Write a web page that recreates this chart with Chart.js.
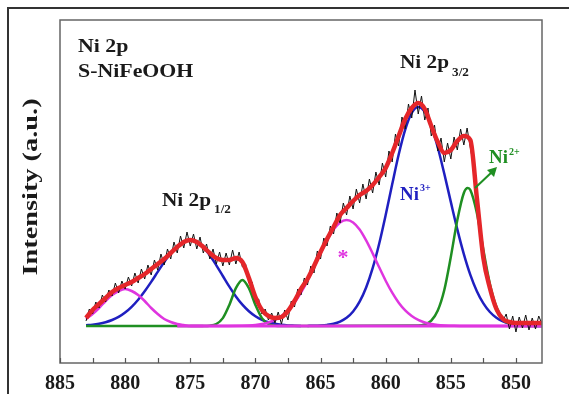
<!DOCTYPE html>
<html>
<head>
<meta charset="utf-8">
<title>Ni 2p S-NiFeOOH</title>
<script src="https://cdn.jsdelivr.net/npm/chart.js@4.4.1/dist/chart.umd.min.js"></script>
<style>
  html, body { margin: 0; padding: 0; background: #fff; }
  #wrap { width: 569px; height: 394px; }
</style>
</head>
<body>
<div id="wrap"><canvas id="xpsChart" width="569" height="394"></canvas></div>
<script>
// axis ticks (binding energy, eV)
const tickValues = [885, 880, 875, 870, 865, 860, 855, 850];
const minorTickValues = [882.5, 877.5, 872.5, 867.5, 862.5, 857.5, 852.5];

// raw spectrum (black), 0.25 eV step starting at 883 eV
const rawStart = 883;
const rawStep = 0.25;
const rawIntensity = [
  5,17,12,24,18,31,24,36,30,43,33,45,37,49,40,53,43,57,47,61,51,66,56,72,61,77,67,84,73,90,78,94,80,
  92,77,89,73,82,67,77,62,74,60,73,61,76,62,74,59,62,43,44,24,27,12,17,6,13,3,14,2,16,6,25,19,37,31,48,41,
  60,53,75,67,88,80,100,92,113,103,123,111,130,117,137,123,142,127,147,133,154,141,163,149,175,164,192,180,209,197,222,208,236,212,230,206,
  218,190,201,175,188,164,183,167,189,176,197,181,198,178,160,122,100,64,55,34,29,14,13,5,12,-3,10,-6,9,-2,11,-4,8,-3,10,2
];

// fitted envelope (red), 0.5 eV step starting at 883 eV
const fitStart = 883;
const fitStep = 0.5;
const fitIntensity = [
  8,16,22,28,34,38,41,44,48,52,57,62,67,73,79,84,86,
  84,79,73,68,66,66,68,64,48,29,16,10,8,9,15,25,37,47,
  60,74,87,99,111,118,125,131,135,141,149,158,173,190,207,218,223,217,
  200,184,173,176,185,190,186,128,68,38,17,7,4,3,3,3,3,3
];

// component peaks
const sat1Energy = [883, 882.5, 882, 881.5, 881, 880.5, 880, 879.5, 879, 878.5, 878, 877.5, 877, 876.5, 876, 875.5, 875, 874];
const sat1Intensity = [7, 12, 18, 25, 31, 35, 37, 35, 31, 25, 18, 12, 7, 4, 2, 1, 0, 0];

const ni3Half1Energy = [883, 882.5, 882, 881.5, 881, 880.5, 880, 879.5, 879, 878.5, 878, 877.5, 877, 876.5, 876, 875.5, 875,
  874.5, 874, 873.5, 873, 872.5, 872, 871.5, 871, 870.5, 870, 869.5, 869, 868.5, 868, 867.5, 867, 866.5];
const ni3Half1Intensity = [0.7, 1.3, 2.3, 3.8, 6, 9.1, 13.5, 19.2, 26.3, 34.7, 44.1, 54.1, 64, 72.8, 79.9, 84.4, 86,
  84.2, 78.8, 70.7, 60.7, 50, 39.3, 29.6, 21.4, 14.8, 9.8, 6.2, 3.8, 2.2, 1.2, 0.6, 0.3, 0];

const ni2Half1Energy = [883, 874, 873.5, 873, 872.5, 872, 871.5, 871, 870.5, 870, 869.5, 869, 868.5, 868, 866];
const ni2Half1Intensity = [0, 0, 0.3, 2, 7.9, 21.1, 37.8, 46, 37.8, 21.1, 7.9, 2, 0.3, 0, 0];

const sat2Energy = [875, 871, 870.5, 870, 869.5, 869, 868.5, 868, 867.5, 867, 866.5, 866, 865.5, 865, 864.5, 864, 863.5, 863,
  862.5, 862, 861.5, 861, 860.5, 860, 859.5, 859, 858.5, 858, 857.5, 857, 856.5, 856, 855.5, 855, 854, 848];
const sat2Intensity = [0, 0.3, 0.5, 1, 2, 3.5, 6.1, 10, 15.6, 23.3, 33.3, 45.3, 58.7, 72.6, 85.6, 96.5, 103.6, 106,
  103.6, 96.5, 85.6, 72.6, 58.7, 45.3, 33.3, 23.3, 15.6, 10, 6.1, 3.5, 2, 1, 0.5, 0.3, 0, 0];

const ni3Half3Energy = [866, 865.5, 865, 864.5, 864, 863.5, 863, 862.5, 862, 861.5, 861, 860.5, 860, 859.5, 859, 858.5, 858, 857.5,
  857, 856.5, 856, 855.5, 855, 854.5, 854, 853.5, 853, 852.5, 852, 851.5, 851, 850.5, 850, 849.5, 849, 848];
const ni3Half3Intensity = [0.1, 0.2, 0.5, 1.1, 2.2, 4.4, 8.2, 14.5, 24.3, 38.5, 57.8, 82.3, 111, 141.7, 171.5, 196.4, 213.1, 219,
  214.1, 199.9, 178.5, 152.2, 124.1, 96.6, 71.9, 51.1, 34.8, 22.6, 14, 8.3, 4.7, 2.5, 1.3, 0.6, 0.3, 0];

const ni2Half3Energy = [866, 857.5, 857, 856.5, 856, 855.5, 855, 854.5, 854, 853.7, 853.5, 853, 852.5, 852, 851.5, 851, 850.5, 850, 849.5, 848];
const ni2Half3Intensity = [0, 0.5, 1.6, 5.4, 15.5, 36, 69, 106, 133, 138, 136, 113, 76, 42, 19, 7, 2, 0.5, 0, 0];

// background line (magenta, drawn over the flat feet)
const baseEnergy = [876, 848];
const baseIntensity = [0, 0];

function toPoints(energy, intensity) {
  return energy.map(function (e, i) { return { x: e, y: intensity[i] }; });
}
function stepPoints(start, step, intensity) {
  return intensity.map(function (v, i) { return { x: start - i * step, y: v }; });
}

const RED = '#e5262a';
const BLUE = '#1f1fc0';
const GREEN = '#1f8f22';
const MAGENTA = '#df35df';
const SERIF = '"Liberation Serif", "Times New Roman", serif';

// draw text squeezed/stretched horizontally like the original figure
function drawText(ctx, txt, x, y, size, color, sx) {
  ctx.save();
  ctx.font = 'bold ' + size + 'px ' + SERIF;
  ctx.fillStyle = color;
  ctx.textAlign = 'left';
  ctx.textBaseline = 'alphabetic';
  ctx.translate(x, y);
  ctx.scale(sx, 1);
  ctx.fillText(txt, 0, 0);
  const w = ctx.measureText(txt).width * sx;
  ctx.restore();
  return w;
}

const decorPlugin = {
  id: 'decor',
  beforeDraw: function (chart) {
    const ctx = chart.ctx;
    ctx.save();
    ctx.fillStyle = '#fff';
    ctx.fillRect(0, 0, chart.width, chart.height);
    ctx.restore();
  },
  afterDraw: function (chart) {
    const ctx = chart.ctx;
    const area = chart.chartArea;
    const xs = chart.scales.x;
    ctx.save();

    // outer frame of the figure panel
    ctx.strokeStyle = '#333';
    ctx.lineWidth = 2;
    ctx.beginPath();
    ctx.moveTo(8, chart.height);
    ctx.lineTo(8, 8);
    ctx.lineTo(chart.width, 8);
    ctx.stroke();

    // plot box
    ctx.strokeStyle = '#666';
    ctx.lineWidth = 1.5;
    ctx.strokeRect(area.left, area.top, area.right - area.left, area.bottom - area.top);

    // inward ticks on the bottom axis
    ctx.strokeStyle = '#555';
    ctx.lineWidth = 1.2;
    tickValues.concat(minorTickValues).forEach(function (v) {
      const px = Math.round(xs.getPixelForValue(v)) + 0.5;
      ctx.beginPath();
      ctx.moveTo(px, area.bottom);
      ctx.lineTo(px, area.bottom - 5);
      ctx.stroke();
    });

    // y axis title
    ctx.save();
    ctx.translate(37, 187);
    ctx.rotate(-Math.PI / 2);
    ctx.scale(1.35, 1);
    ctx.font = 'bold 21px ' + SERIF;
    ctx.fillStyle = '#1a1a1a';
    ctx.textAlign = 'center';
    ctx.textBaseline = 'alphabetic';
    ctx.fillText('Intensity (a.u.)', 0, 0);
    ctx.restore();

    const dark = '#1a1a1a';
    drawText(ctx, 'Ni 2p', 78, 52, 19, dark, 1.15);
    drawText(ctx, 'S-NiFeOOH', 78, 77, 19, dark, 1.15);

    let w = drawText(ctx, 'Ni 2p', 400, 68, 19, dark, 1.12);
    drawText(ctx, '3/2', 400 + w + 3, 76, 12, dark, 1.1);

    w = drawText(ctx, 'Ni 2p', 162, 206, 19, dark, 1.12);
    drawText(ctx, '1/2', 162 + w + 3, 213, 12, dark, 1.1);

    // Ni3+ (blue)
    w = drawText(ctx, 'Ni', 400, 200, 18, BLUE, 1.05);
    drawText(ctx, '3+', 400 + w + 1, 191, 10, BLUE, 1);

    // Ni2+ (green) with arrow
    w = drawText(ctx, 'Ni', 489, 163, 18, GREEN, 1.05);
    drawText(ctx, '2+', 489 + w + 1, 155, 10, GREEN, 1);
    ctx.strokeStyle = GREEN;
    ctx.fillStyle = GREEN;
    ctx.lineWidth = 2;
    ctx.beginPath();
    ctx.moveTo(475, 188);
    ctx.lineTo(492, 172);
    ctx.stroke();
    ctx.beginPath();
    ctx.moveTo(497, 167);
    ctx.lineTo(487, 170);
    ctx.lineTo(494, 177);
    ctx.closePath();
    ctx.fill();

    // satellite asterisk
    ctx.font = 'bold 22px ' + SERIF;
    ctx.fillStyle = MAGENTA;
    ctx.textAlign = 'center';
    ctx.fillText('*', 343, 264);

    ctx.restore();
  }
};

function lineSet(label, points, color, width, order, smooth) {
  return {
    label: label,
    data: points,
    borderColor: color,
    backgroundColor: color,
    borderWidth: width,
    pointRadius: 0,
    fill: false,
    order: order,
    tension: smooth ? 0.4 : 0,
    cubicInterpolationMode: smooth ? 'monotone' : 'default'
  };
}

const ctx = document.getElementById('xpsChart').getContext('2d');
new Chart(ctx, {
  type: 'line',
  data: {
    datasets: [
      lineSet('Fit', stepPoints(fitStart, fitStep, fitIntensity), RED, 4.5, 0, true),
      lineSet('Raw', stepPoints(rawStart, rawStep, rawIntensity), '#111', 1, 1, false),
      lineSet('Background', toPoints(baseEnergy, baseIntensity), MAGENTA, 3, 2, false),
      lineSet('Satellite 1', toPoints(sat1Energy, sat1Intensity), MAGENTA, 2.5, 2, true),
      lineSet('Satellite 2', toPoints(sat2Energy, sat2Intensity), MAGENTA, 2.5, 2, true),
      lineSet('Ni2+ 2p1/2', toPoints(ni2Half1Energy, ni2Half1Intensity), GREEN, 2.5, 3, true),
      lineSet('Ni2+ 2p3/2', toPoints(ni2Half3Energy, ni2Half3Intensity), GREEN, 2.5, 3, true),
      lineSet('Ni3+ 2p1/2', toPoints(ni3Half1Energy, ni3Half1Intensity), BLUE, 2.5, 4, true),
      lineSet('Ni3+ 2p3/2', toPoints(ni3Half3Energy, ni3Half3Intensity), BLUE, 2.5, 4, true)
    ]
  },
  options: {
    responsive: false,
    animation: false,
    layout: { padding: { left: 60, right: 27, top: 20, bottom: 0 } },
    plugins: {
      legend: { display: false },
      tooltip: { enabled: false }
    },
    scales: {
      x: {
        type: 'linear',
        reverse: true,
        min: 848,
        max: 885,
        grid: { display: false, drawTicks: false },
        border: { display: false },
        ticks: {
          padding: 9,
          color: '#1a1a1a',
          font: { family: SERIF, size: 20, weight: 'bold' },
          maxRotation: 0
        },
        afterBuildTicks: function (axis) {
          axis.ticks = tickValues.map(function (v) { return { value: v }; });
        },
        afterFit: function (axis) {
          axis.height = 31;
        }
      },
      y: {
        type: 'linear',
        display: false,
        min: -37,
        max: 306
      }
    }
  },
  plugins: [decorPlugin]
});
</script>
</body>
</html>
